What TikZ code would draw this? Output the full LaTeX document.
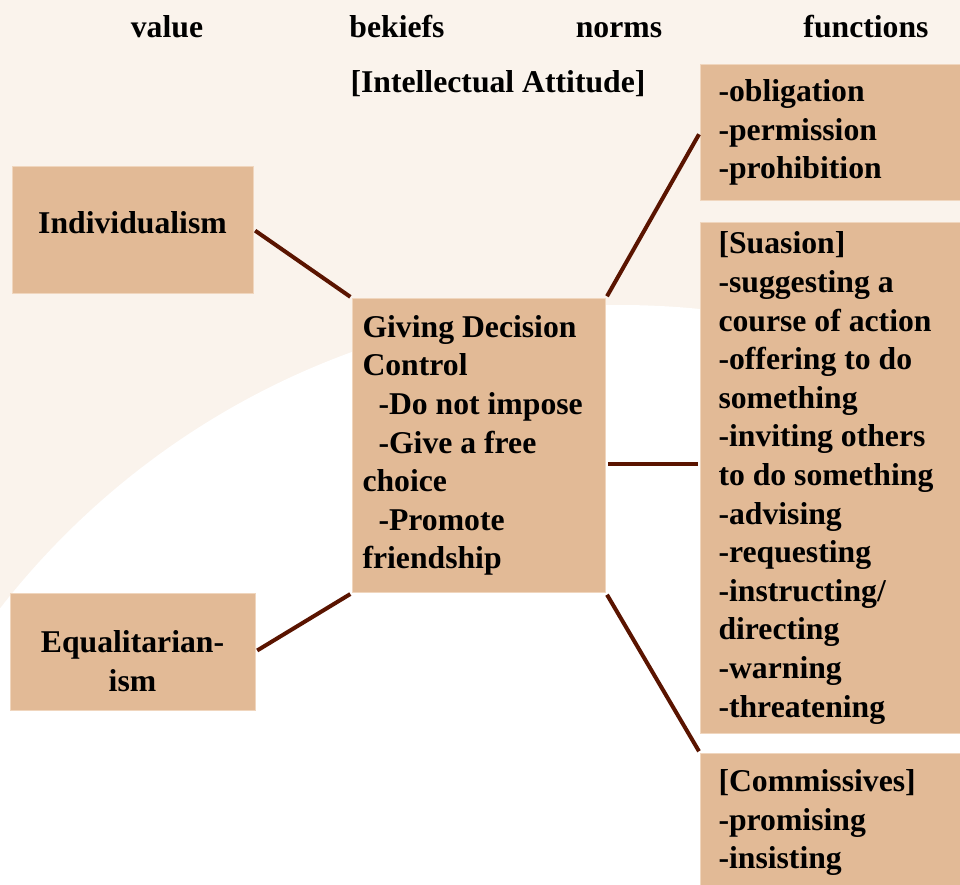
\documentclass[tikz,border=0pt]{standalone}
\usepackage{fontspec}
\setmainfont{Liberation Serif}
\usepackage{tikz}
\definecolor{bgcream}{RGB}{250,243,236}
\definecolor{boxtan}{RGB}{226,186,150}
\definecolor{boxedge}{RGB}{240,214,190}
\definecolor{linkbrown}{RGB}{90,20,0}

\begin{document}
\begin{tikzpicture}[x=1pt,y=-1pt]
\tikzstyle{txt}=[font=\fontsize{31.7}{38.6}\selectfont\bfseries];
\tikzstyle{hdr}=[txt,inner sep=0pt,anchor=base];
\tikzstyle{box}=[txt,rectangle,fill=boxtan,draw=boxedge,line width=1pt];
\tikzstyle{fnbox}=[box,anchor=north west,align=flush left,inner xsep=18pt,text width=224pt,minimum width=260pt];
\tikzstyle{link}=[draw=linkbrown,line width=4pt,shorten <=2pt,shorten >=2pt];

\useasboundingbox (0,0) rectangle (960,884);
\fill [bgcream] (0,0) rectangle (960,884);
\begin{scope}
\clip (0,0) rectangle (960,884);
\fill [white] (620,1090) circle [radius=785pt];
\end{scope}

% header row
\node [hdr] (h1) at (167,37.5) {value};
\node [hdr] (h2) at (397,37.5) {bekiefs};
\node [hdr] (h3) at (619,37.5) {norms};
\node [hdr] (h4) at (866,37.5) {functions};
\node [hdr] (h5) at (498,92) {[Intellectual Attitude]};

% values
\node [box,text depth=15pt,minimum width=241pt,minimum height=127pt] (ind) at (132.5,229.5) {Individualism};
\node [box,align=center,text height=80pt,minimum width=245pt,minimum height=117pt] (eq) at (132.5,651.5) {Equalitarian-\\ism};

% beliefs / norms
\node [box,anchor=north west,align=flush left,inner xsep=10pt,text width=233pt,minimum height=294pt] (gdc) at (352,298)
  {Giving Decision\\Control\\\hspace*{16pt}-Do not impose\\\hspace*{16pt}-Give a free\\choice\\\hspace*{16pt}-Promote\\friendship};

% functions
\node [fnbox,minimum height=136pt] (fn1) at (700,64) {-obligation\\-permission\\-prohibition};
\node [fnbox,minimum height=511pt] (fn2) at (700,222)
  {[Suasion]\\-suggesting a\\course of action\\-offering to do\\something\\-inviting others\\to do something\\-advising\\-requesting\\-instructing/\\directing\\-warning\\-threatening};
\node [fnbox,minimum height=138pt] (fn3) at (700,753) {[Commissives]\\-promising\\-insisting};

\draw [link] (ind.east) edge (gdc.north west);
\draw [link] (eq.east) edge (gdc.south west);
\draw [link] (gdc.north east) edge (fn1.west);
\coordinate (s1) at ([yshift=-18pt]gdc.east);
\coordinate (s2) at (s1 -| fn2.west);
\draw [link] (s1) edge (s2);
\draw [link] (gdc.south east) edge (fn3.north west);
\end{tikzpicture}
\end{document}
